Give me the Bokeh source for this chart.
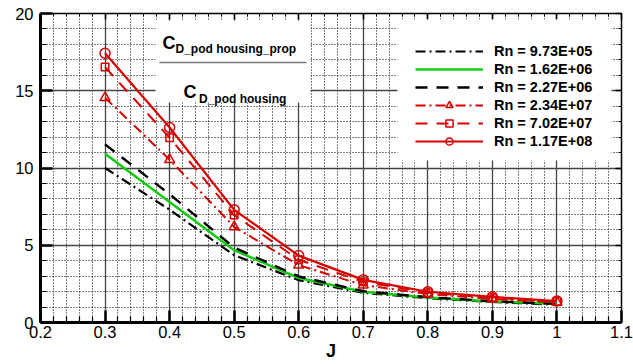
from bokeh.plotting import figure
from bokeh.models import (FixedTicker, LinearAxis, Range1d, BoxAnnotation, Label,
                          Legend, LegendItem, CustomLabelingPolicy)
from bokeh.embed import file_html
from bokeh.resources import INLINE

# ---------------- data ----------------
J = [0.3, 0.4, 0.5, 0.6, 0.7, 0.8, 0.9, 1.0]
rn_973e5 = [10.0, 7.3, 4.36, 2.74, 1.92, 1.57, 1.33, 1.15]
rn_162e6 = [10.93, 7.8, 4.68, 2.88, 1.99, 1.62, 1.36, 1.21]
rn_227e6 = [11.53, 8.3, 4.85, 2.98, 2.02, 1.64, 1.38, 1.20]
rn_234e7 = [14.55, 10.54, 6.19, 3.71, 2.42, 1.85, 1.52, 1.30]
rn_702e7 = [16.53, 11.96, 6.96, 4.06, 2.63, 1.93, 1.60, 1.36]
rn_117e8 = [17.43, 12.62, 7.29, 4.33, 2.76, 1.99, 1.66, 1.39]
series_labels = ["Rn = 9.73E+05", "Rn = 1.62E+06", "Rn = 2.27E+06",
                 "Rn = 2.34E+07", "Rn = 7.02E+07", "Rn = 1.17E+08"]

x_ticks = [0.2, 0.3, 0.4, 0.5, 0.6, 0.7, 0.8, 0.9, 1.0, 1.1]
x_tick_labels = ["0.2", "0.3", "0.4", "0.5", "0.6", "0.7", "0.8", "0.9", "1", "1.1"]
x_minor = [round(0.2 + 0.02 * i, 2) for i in range(46)]
y_ticks = [0, 5, 10, 15, 20]
y_tick_labels = ["0", "5", "10", "15", "20"]
y_minor = list(range(0, 21))

x_title = "J"
ratio_num = ("C", "D_pod housing_prop")
ratio_den = ("C", "D_pod housing")

FONT = "Liberation Sans"
RED = "#d90000"
GREEN = "#11cc11"

# frame in page pixels: left 40, right 621, top 13, bottom 322
def xd(px):
    return 0.2 + (px - 40) / (621 - 40) * 0.9

def yd(py):
    return (322 - py) / (322 - 13) * 20

p = figure(width=633, height=364, output_backend="svg", toolbar_location=None,
           x_range=Range1d(0.2, 1.1), y_range=Range1d(0, 20),
           min_border_left=40, min_border_right=12, min_border_top=13, min_border_bottom=42)
p.outline_line_color = None
p.background_fill_color = "white"

xt = FixedTicker(ticks=x_ticks, minor_ticks=x_minor)
yt = FixedTicker(ticks=y_ticks, minor_ticks=y_minor)

for ax, tk, labels in ((p.xaxis[0], xt, dict(zip(x_ticks, x_tick_labels))),
                       (p.yaxis[0], yt, dict(zip(y_ticks, y_tick_labels)))):
    ax.ticker = tk
    ax.major_label_overrides = labels
    ax.axis_line_width = 3
    ax.axis_line_color = "black"
    ax.major_tick_in = 12
    ax.major_tick_out = 0
    ax.major_tick_line_width = 2.5
    ax.minor_tick_in = 6
    ax.minor_tick_out = 0
    ax.minor_tick_line_width = 1.2
    ax.major_label_text_font = FONT
    ax.major_label_text_font_size = "16.5px"
    ax.major_label_text_color = "black"
p.xaxis[0].major_label_standoff = 3
p.yaxis[0].major_label_standoff = 7
p.xaxis[0].axis_label = x_title
p.xaxis[0].axis_label_text_font = FONT
p.xaxis[0].axis_label_text_font_style = "bold"
p.xaxis[0].axis_label_text_font_size = "18px"
p.xaxis[0].axis_label_text_color = "black"
p.xaxis[0].axis_label_standoff = 0

no_labels = CustomLabelingPolicy(code="return new Set()")
for side, tk in (("above", xt), ("right", yt)):
    ax = LinearAxis(ticker=tk, major_label_text_font_size="1px", major_label_standoff=0,
                    major_label_policy=no_labels,
                    major_tick_in=6, major_tick_out=0, minor_tick_in=3, minor_tick_out=0,
                    axis_line_width=1.5, major_tick_line_width=1.5, minor_tick_line_width=1)
    p.add_layout(ax, side)

for g, tk in ((p.xgrid[0], xt), (p.ygrid[0], yt)):
    g.ticker = tk
    g.grid_line_color = "#444444"
    g.grid_line_width = 1.3
    g.minor_grid_line_color = "black"
    g.minor_grid_line_width = 1
    g.minor_grid_line_dash = "1 2"

# white boxes (ratio title + legend)
p.add_layout(BoxAnnotation(left=xd(155), right=xd(310), top=yd(20), bottom=yd(102),
                           fill_color="white", fill_alpha=1, line_color=None))
p.add_layout(BoxAnnotation(left=xd(397), right=xd(611), top=yd(19), bottom=yd(160),
                           fill_color="white", fill_alpha=1, line_color=None))

# series
r1 = p.line(J, rn_973e5, line_color="black", line_width=2.2, line_dash="10 4 2 4")
r2 = p.line(J, rn_162e6, line_color=GREEN, line_width=2.5)
r3 = p.line(J, rn_227e6, line_color="black", line_width=2.4, line_dash="12 9")
r4 = p.line(J, rn_234e7, line_color=RED, line_width=2, line_dash="10 4 2 4")
m4 = p.scatter(J, rn_234e7, marker="triangle", size=10, fill_color=None,
               line_color=RED, line_width=1.5)
r5 = p.line(J, rn_702e7, line_color=RED, line_width=2, line_dash="12 9")
m5 = p.scatter(J, rn_702e7, marker="square", size=7.5, fill_color=None,
               line_color=RED, line_width=1.5)
r6 = p.line(J, rn_117e8, line_color=RED, line_width=2.2)
m6 = p.scatter(J, rn_117e8, marker="circle", size=10, fill_color=None,
               line_color=RED, line_width=1.5)

items = [LegendItem(label=series_labels[0], renderers=[r1]),
         LegendItem(label=series_labels[1], renderers=[r2]),
         LegendItem(label=series_labels[2], renderers=[r3]),
         LegendItem(label=series_labels[3], renderers=[r4, m4]),
         LegendItem(label=series_labels[4], renderers=[r5, m5]),
         LegendItem(label=series_labels[5], renderers=[r6, m6])]
legend = Legend(items=items, location=(375, 172), orientation="vertical",
                background_fill_alpha=0, border_line_color=None, padding=0, margin=0,
                spacing=0, glyph_width=68, glyph_height=18, label_height=18,
                label_standoff=11, label_text_font=FONT, label_text_font_style="bold",
                label_text_font_size="14.5px", label_text_color="black")
p.add_layout(legend)

# ratio title
p.segment(x0=[xd(159)], y0=[yd(62)], x1=[xd(306)], y1=[yd(62)],
          line_color="#777777", line_width=1.5, level="overlay")
for txt, px, py, fs in ((ratio_num[0], 162, 42, "18px"), (ratio_num[1], 175, 48.3, "12px"),
                        (ratio_den[0], 183, 91.7, "18px"), (ratio_den[1], 198.5, 98.3, "12px")):
    p.add_layout(Label(x=xd(px), y=yd(py), text=txt, text_font=FONT, text_font_style="bold",
                       text_font_size=fs, text_align="left", text_baseline="alphabetic",
                       text_color="black"))

open("out.html", "w").write(file_html(p, INLINE))
